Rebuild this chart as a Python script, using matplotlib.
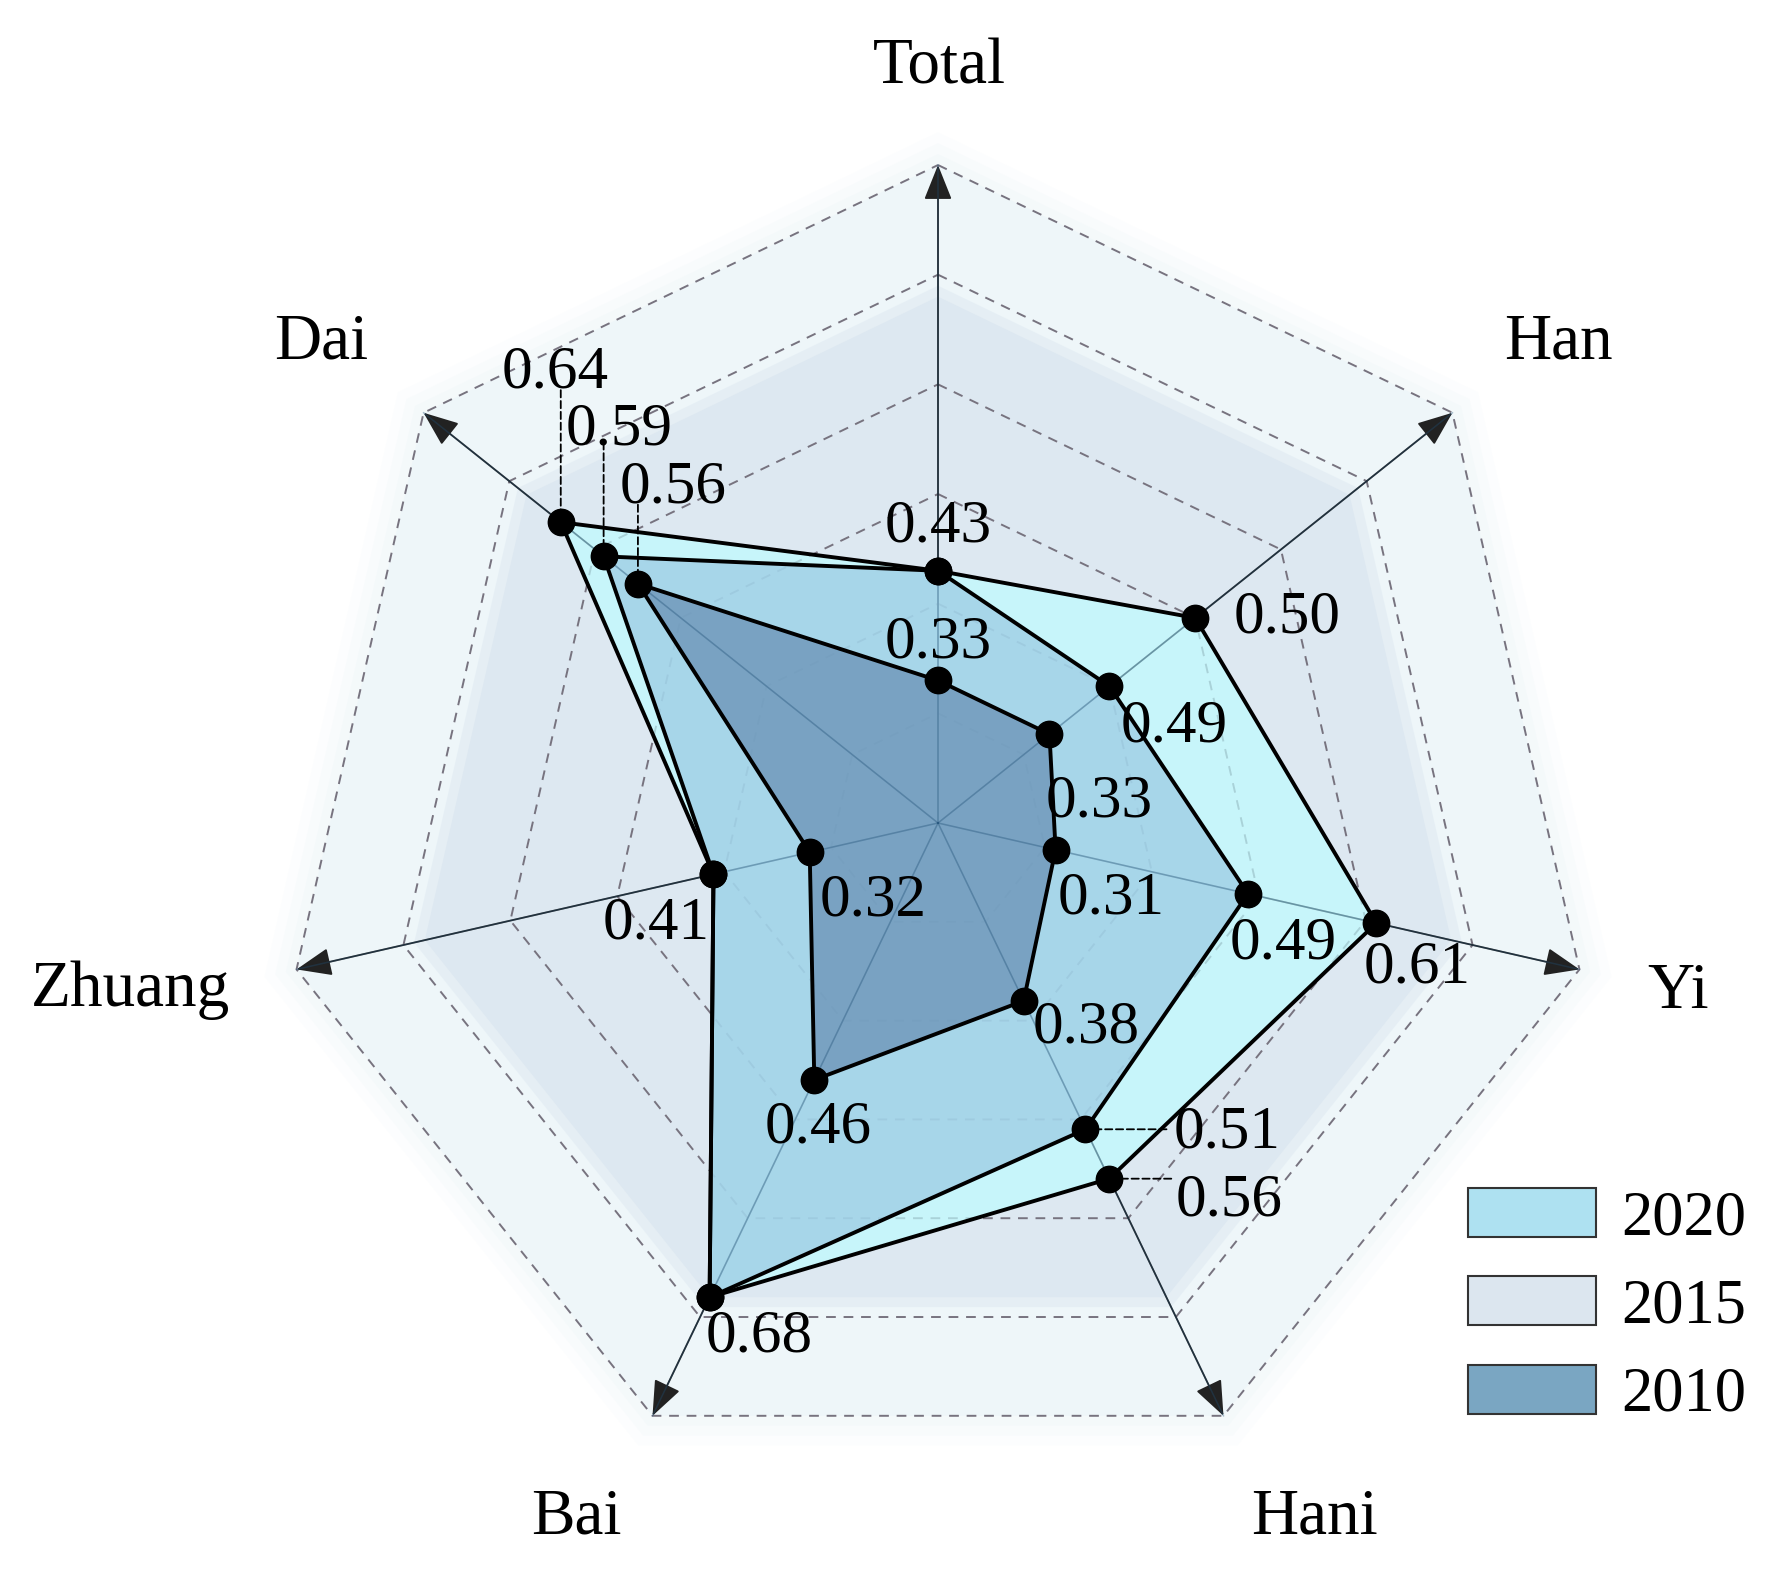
import numpy as np
import matplotlib
matplotlib.use('Agg')
import matplotlib.pyplot as plt
from matplotlib.patches import Patch

plt.rcParams['font.family'] = ['Liberation Serif', 'DejaVu Serif']

# 数据
categories = ['Total', 'Han', 'Yi', 'Hani', 'Bai', 'Zhuang', 'Dai']
years = ['2020', '2015', '2010']
v2020 = [0.43, 0.50, 0.61, 0.56, 0.68, 0.41, 0.64]
v2015 = [0.43, 0.40, 0.49, 0.51, 0.68, 0.41, 0.59]
v2010 = [0.33, 0.33, 0.31, 0.38, 0.46, 0.32, 0.55]
# 图上标注的数值（2015 的 Han 点在原图中画得比标注低）
t2020 = ['0.43', '0.50', '0.61', '0.56', '0.68', '0.41', '0.64']
t2015 = ['', '0.49', '0.49', '0.51', '', '', '0.59']
t2010 = ['0.33', '0.33', '0.31', '0.38', '0.46', '0.32', '0.56']
rings = [0.3, 0.4, 0.5, 0.6, 0.7, 0.8]

# 标注偏移（像素，x 向右，y 向上）
off2020 = [(0, 50), (92, 6), (41, -39), (120, -16), (50, -34), (-57, -44), (-6, 155)]
off2015 = [None, (65, -34), (35, -44), (142, 3), None, None, (15, 133)]
off2010 = [(0, 44), (50, -62), (56, -43), (63, -21), (4, -42), (63, -42), (35, 102)]
lead2020 = [None, None, None, (62, 0), None, None, (0, 132)]
lead2015 = [None, None, None, (81, 0), None, None, (0, 114)]
lead2010 = [None, None, None, None, None, None, (0, 79)]
cat_off = [(1, 103), (106, 76), (99, -17), (91, -96), (-76, -96), (-166, -15), (-102, 76)]

fill_colors = ['#bffbff', '#9ac9e3', '#668db2']
legend_colors = ['#aee1f1', '#dce6ef', '#7aa6c2']

angles = np.linspace(0, 2 * np.pi, len(categories), endpoint=False)
closed = np.concatenate([angles, angles[:1]])

fig = plt.figure(figsize=(17.82, 15.71), dpi=100)
ax = fig.add_axes([225.2 / 1782, 35.2 / 1571, 1425.6 / 1782, 1425.6 / 1571], projection='polar')
ax.set_theta_zero_location('N')
ax.set_theta_direction(-1)
ax.set_ylim(0.2, 0.85)
ax.axis('off')

# 背景
for r, a in [(0.83, 0.15), (0.82, 0.25), (0.81, 0.4)]:
    ax.fill(angles, [r] * len(angles), color='#eef6f9', alpha=a, lw=0, zorder=0)
ax.fill(angles, [0.8] * len(angles), color='#eef6f9', lw=0, zorder=0)
ax.fill(angles, [0.69] * len(angles), color='#dde8f1', alpha=0.5, lw=0, zorder=0)
ax.fill(angles, [0.68] * len(angles), color='#dde8f1', lw=0, zorder=0)

for r in rings:
    ax.plot(closed, [r] * len(closed), color='#77737f', lw=1.4, ls=(0, (5, 4)), zorder=1)

for th in angles:
    ax.annotate('', xy=(th, 0.8), xytext=(th, 0.2),
                arrowprops=dict(arrowstyle='-|>,head_length=0.55,head_width=0.22', mutation_scale=40,
                                lw=1.3, color='#222222', shrinkA=0, shrinkB=0), zorder=2)

series = [v2020, v2015, v2010]
for vals, c in zip(series, fill_colors):
    ax.fill(angles, vals, color=c, alpha=0.7, lw=0, zorder=3)
# 填充区内的轴线略微透出
for th in angles:
    ax.plot([th, th], [0.2, 0.8], color='#1f5078', lw=1.1, alpha=0.35, zorder=3.5)
for vals in series:
    ax.plot(closed, vals + vals[:1], color='k', lw=2.8, zorder=4)
    ax.plot(angles, vals, 'o', color='k', ms=19, zorder=5)

for vals, texts, offs, leads in zip(series, [t2020, t2015, t2010], [off2020, off2015, off2010],
                                    [lead2020, lead2015, lead2010]):
    for th, v, t, o, ld in zip(angles, vals, texts, offs, leads):
        if ld is not None:
            ax.annotate('', xy=(th, v), xytext=ld, textcoords='offset pixels',
                        arrowprops=dict(arrowstyle='-', lw=1.3, ls=(0, (4, 2)), color='k',
                                        shrinkA=0, shrinkB=0), zorder=4.5)
        if t:
            ax.annotate(t, xy=(th, v), xytext=(o[0], o[1] - 6), textcoords='offset pixels',
                        ha='center', va='center', fontsize=44, zorder=6)

for th, name, o in zip(angles, categories, cat_off):
    ax.annotate(name, xy=(th, 0.8), xytext=(o[0], o[1] - 6), textcoords='offset pixels',
                ha='center', va='center', fontsize=47)

handles = [Patch(facecolor=c, edgecolor='#333333', lw=1.5) for c in legend_colors]
fig.legend(handles, years, loc='upper left', bbox_to_anchor=(1468 / 1782, 1 - 1188 / 1571),
           bbox_transform=fig.transFigure, frameon=False, fontsize=45, borderpad=0, borderaxespad=0,
           handlelength=2.05, handleheight=0.83, handletextpad=0.4, labelspacing=0.45)

fig.savefig('out.png', dpi=100, facecolor='white')
